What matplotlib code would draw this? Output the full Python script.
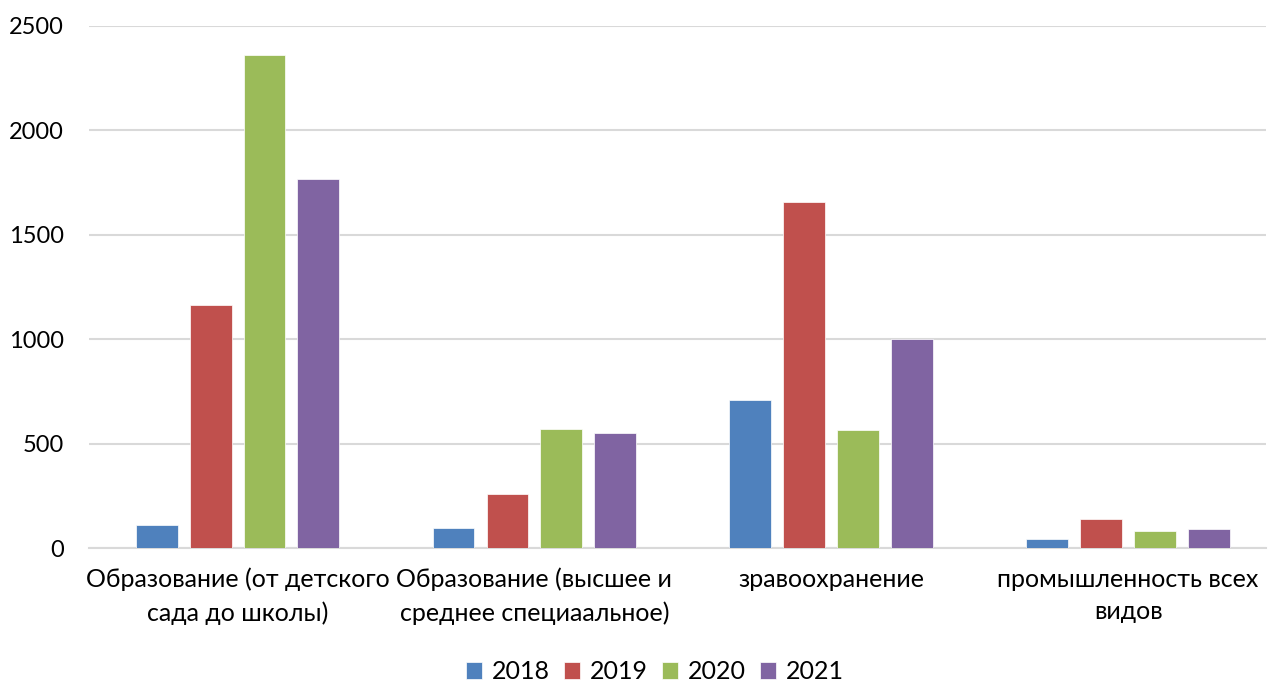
import numpy as np
import matplotlib.pyplot as plt

categories = ["Образование (от детского\nсада до школы)",
              "Образование (высшее и\nсреднее специаальное)",
              "зравоохранение",
              "промышленность всех\nвидов"]
years = ["2018", "2019", "2020", "2021"]
v2018 = [110, 99, 712, 46]
v2019 = [1164, 259, 1655, 140]
v2020 = [2362, 570, 567, 83]
v2021 = [1769, 552, 1003, 94]
colors = ["#4F81BD", "#C0504D", "#9BBB59", "#8064A2"]

plt.rcParams['font.family'] = ['Lato', 'DejaVu Sans']

fig = plt.figure(figsize=(12.69, 6.82), dpi=100)
ax = fig.add_axes([0.070, 0.196, 0.928, 0.766])

x = np.arange(len(categories))
w = 0.141
step = 0.1816
for i, (vals, c) in enumerate(zip([v2018, v2019, v2020, v2021], colors)):
    ax.bar(x + (i - 1.5) * step, vals, w, color=c, label=years[i],
           edgecolor='white', linewidth=0.5, zorder=3)

ax.set_xlim(-0.501, 3.466)
ax.set_ylim(0, 2500)
ax.set_yticks(range(0, 2501, 500))
ax.grid(axis='y', color='#d9d9d9', linewidth=1.5, zorder=0)
for s in ['top', 'right', 'left']:
    ax.spines[s].set_visible(False)
ax.spines['bottom'].set_color('#d9d9d9')
ax.spines['bottom'].set_linewidth(1.5)
ax.tick_params(axis='both', length=0, colors='black')
ax.tick_params(axis='y', pad=18, labelsize=17)
ax.tick_params(axis='x', pad=14, labelsize=18)
ax.set_xticks(x)
ax.set_xticklabels(categories, linespacing=1.5)

fig.legend(loc='center', ncol=4, frameon=False, fontsize=18,
           bbox_to_anchor=(0.516, 0.0147), handlelength=0.65, handleheight=0.65,
           handletextpad=0.4, columnspacing=0.55)

fig.savefig("out.png")
